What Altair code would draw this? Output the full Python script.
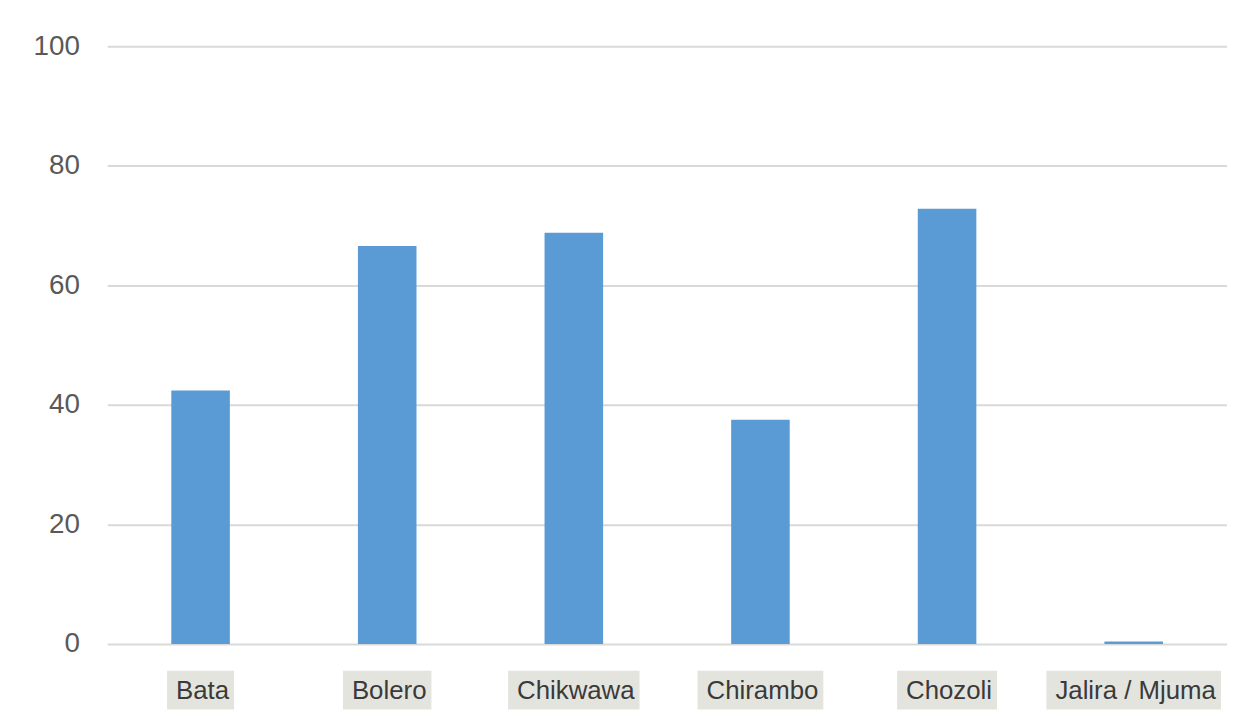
import altair as alt
import pandas as pd

# values
sites = ["Bata", "Bolero", "Chikwawa", "Chirambo", "Chozoli", "Jalira / Mjuma"]
values = [42.4, 66.6, 68.8, 37.5, 72.8, 0.4]

LABEL_SIZE = 26
# rough Arial/Liberation Sans advance widths (per 1000 em) to size the label boxes
GLYPH_W = {
    "B": 667, "C": 722, "J": 500, "M": 833, "a": 556, "b": 556, "e": 556,
    "h": 556, "i": 222, "j": 222, "k": 500, "l": 222, "m": 833, "o": 556,
    "r": 333, "t": 278, "u": 556, "w": 722, "z": 500, " ": 278, "/": 278,
}


def text_width(s):
    return sum(GLYPH_W.get(c, 556) for c in s) * LABEL_SIZE / 1000


source = pd.DataFrame({"site": sites, "value": values})
source["box_w"] = [text_width(s) + 14 for s in sites]

W, H = 1128, 602
x_enc = alt.X(
    "site:N",
    sort=sites,
    scale=alt.Scale(paddingInner=0, paddingOuter=0),
    axis=None,
)

bars = (
    alt.Chart(source)
    .mark_bar(size=59, color="#5b9bd5")
    .encode(
        x=x_enc,
        y=alt.Y(
            "value:Q",
            scale=alt.Scale(domain=[0, 100], nice=False),
            axis=alt.Axis(
                title=None,
                values=[0, 20, 40, 60, 80, 100],
                domain=False,
                ticks=False,
                labelPadding=28,
                labelFontSize=28,
                labelColor="#595959",
                labelFont="Liberation Sans",
                gridColor="#d9d9d9",
                gridWidth=2,
            ),
        ),
    )
)

# grey boxes behind the category labels
boxes = (
    alt.Chart(source)
    .mark_bar(color="#e4e4df", clip=False)
    .encode(
        x=x_enc,
        size=alt.Size("box_w:Q", scale=None, legend=None),
        y=alt.value(H + 27),
        y2=alt.value(H + 66),
    )
)

labels = (
    alt.Chart(source)
    .mark_text(
        fontSize=LABEL_SIZE, font="Liberation Sans", color="#3a3a3a",
        baseline="middle", dx=2,
    )
    .encode(x=x_enc, y=alt.value(H + 47), text="site:N")
)

chart = (
    alt.layer(bars, boxes, labels)
    .properties(
        width=W,
        height=H,
        autosize=alt.AutoSizeParams(type="none"),
        padding={"left": 100, "top": 36, "right": 0, "bottom": 70},
    )
    .configure_view(stroke=None)
)

chart.save("out.html", embed_options={"renderer": "svg", "actions": False})
